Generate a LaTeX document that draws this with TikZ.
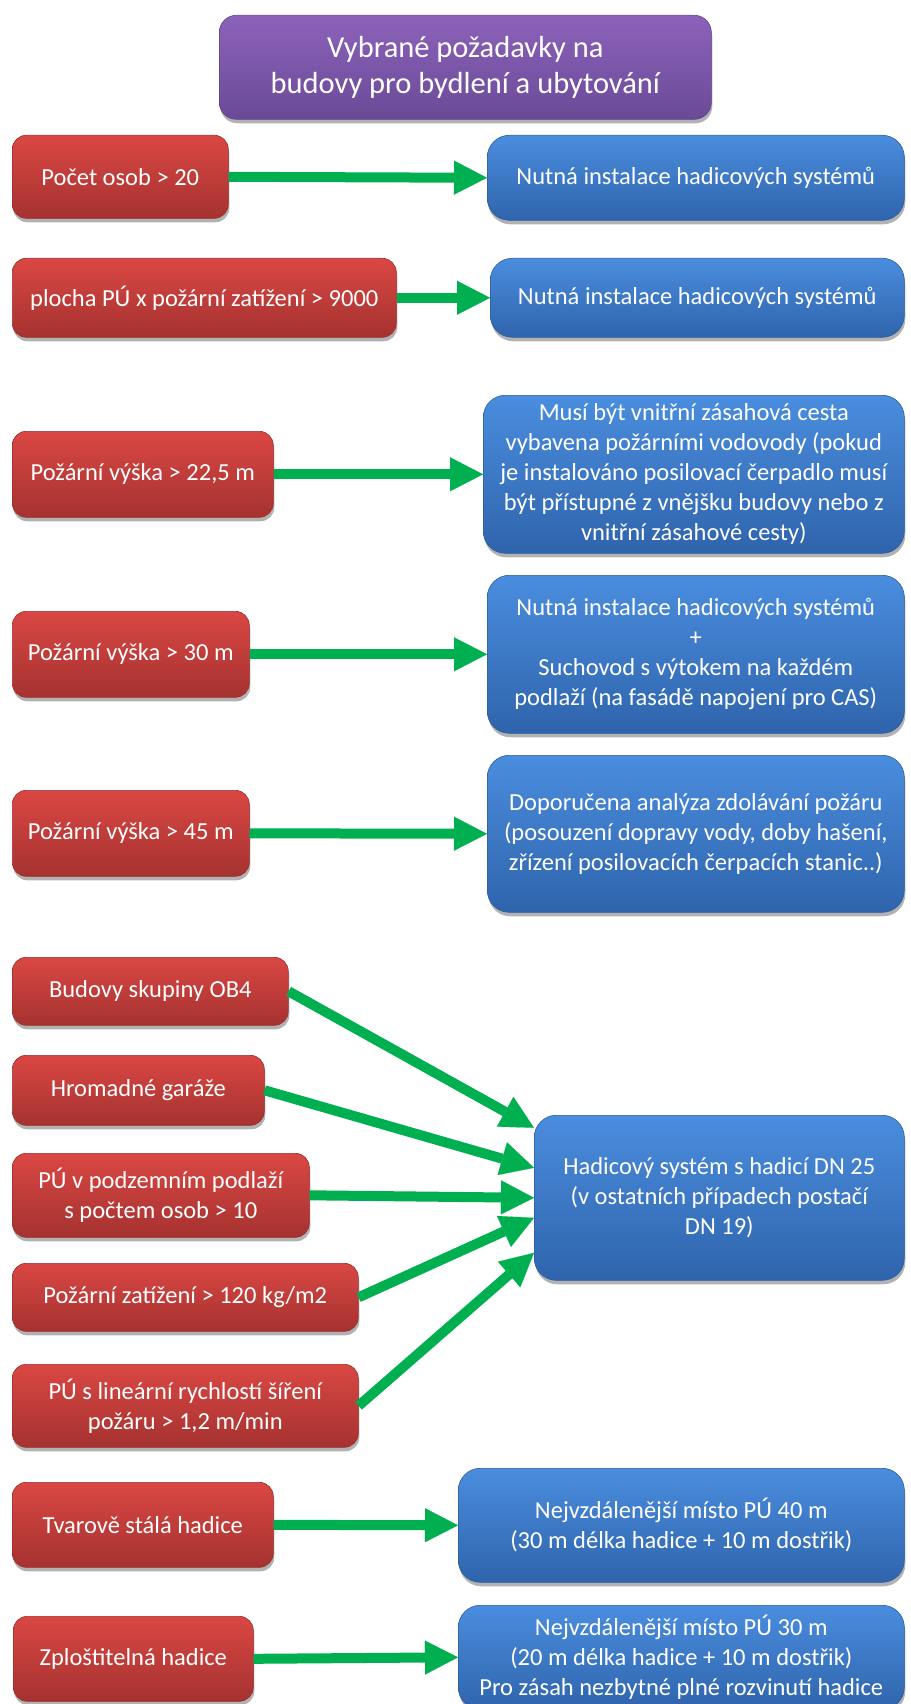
\documentclass[tikz,border=0pt]{standalone}
\usepackage{fontspec}
\setmainfont{Carlito}
\usetikzlibrary{arrows.meta}
\usetikzlibrary{shadows}
\usepackage{xcolor}

\definecolor{condtop}{HTML}{DA4743}
\definecolor{condbot}{HTML}{A53230}
\definecolor{condedge}{HTML}{9A2F2D}
\definecolor{reqtop}{HTML}{4A8DDE}
\definecolor{reqbot}{HTML}{2F64AC}
\definecolor{reqedge}{HTML}{2B5C9E}
\definecolor{headtop}{HTML}{8C62BA}
\definecolor{headbot}{HTML}{6A4A97}
\definecolor{headedge}{HTML}{5F4389}
\definecolor{arrowgreen}{HTML}{00B050}

\begin{document}
\begin{tikzpicture}[
    x=1pt, y=-1pt,
    box/.style={rounded corners=14pt, align=center, text=white, inner sep=4pt, line width=0.6pt,
        font=\fontsize{24.5pt}{30pt}\selectfont, anchor=north west,
        drop shadow={shadow xshift=1pt, shadow yshift=-4pt, opacity=0.3, fill=black}},
    cond/.style={box, top color=condtop, bottom color=condbot, draw=condedge},
    req/.style={box, rounded corners=22pt, top color=reqtop, bottom color=reqbot, draw=reqedge},
    heading/.style={box, rounded corners=17pt, top color=headtop, bottom color=headbot, draw=headedge,
        font=\fontsize{30.5pt}{36pt}\selectfont},
    link/.style={line width=10pt, draw=arrowgreen, -{Triangle[length=33pt, width=34pt, line width=0.1pt]}}
]
    % Background
    \fill[white] (0,0) rectangle (910,1704);
    \useasboundingbox (0,0) rectangle (910,1704);

    % Heading
    \node[heading, minimum width=492pt, minimum height=104pt] (title) at (219,15) {Vybrané požadavky na\\budovy pro bydlení a ubytování};

    % One condition, one requirement
    \node[cond, minimum width=216pt, minimum height=83pt] (osoby) at (12,135) {Počet osob > 20};
    \node[req, minimum width=417pt, minimum height=85pt] (hadice1) at (487,135) {Nutná instalace hadicových systémů};

    \node[cond, minimum width=384pt, minimum height=79pt] (plocha) at (12,258) {plocha PÚ x požární zatížení > 9000};
    \node[req, minimum width=414pt, minimum height=79pt] (hadice2) at (490,258) {Nutná instalace hadicových systémů};

    \node[cond, minimum width=261pt, minimum height=86pt] (vyska1) at (12,431) {Požární výška > 22,5 m};
    \node[req, minimum width=421pt, minimum height=158pt] (vodovody) at (483,395) {Musí být vnitřní zásahová cesta\\vybavena požárními vodovody (pokud\\je instalováno posilovací čerpadlo musí\\být přístupné z vnějšku budovy nebo z\\vnitřní zásahové cesty)};

    \node[cond, minimum width=237pt, minimum height=86pt] (vyska2) at (12,611) {Požární výška > 30 m};
    \node[req, minimum width=417pt, minimum height=158pt] (suchovod) at (487,575) {Nutná instalace hadicových systémů\\+\\Suchovod s výtokem na každém\\podlaží (na fasádě napojení pro CAS)};

    \node[cond, minimum width=237pt, minimum height=86pt] (vyska3) at (12,790) {Požární výška > 45 m};
    \node[req, minimum width=417pt, minimum height=157pt] (analyza) at (487,755) {Doporučena analýza zdolávání požáru\\(posouzení dopravy vody, doby hašení,\\zřízení posilovacích čerpacích stanic..)};

    % Several conditions, one requirement
    \node[cond, minimum width=276pt, minimum height=68pt] (ob4) at (12,957) {Budovy skupiny OB4};
    \node[cond, minimum width=252pt, minimum height=70pt] (garaze) at (12,1055) {Hromadné garáže};
    \node[cond, minimum width=297pt, minimum height=84pt] (podzemi) at (12,1153) {PÚ v podzemním podlaží\\s počtem osob > 10};
    \node[cond, minimum width=346pt, minimum height=68pt] (zatizeni) at (12,1263) {Požární zatížení > 120 kg/m2};
    \node[cond, minimum width=346pt, minimum height=83pt] (sireni) at (12,1364) {PÚ s lineární rychlostí šíření\\požáru > 1,2 m/min};
    \node[req, minimum width=370pt, minimum height=165pt] (dn25) at (534,1115) {Hadicový systém s hadicí DN 25\\(v ostatních případech postačí\\DN 19)};

    % Hoses
    \node[cond, minimum width=261pt, minimum height=85pt] (tvarove) at (12,1482) {Tvarově stálá hadice};
    \node[req, minimum width=446pt, minimum height=114pt] (dosah40) at (458,1468) {Nejvzdálenější místo PÚ 40 m\\(30 m délka hadice + 10 m dostřik)};

    \node[cond, minimum width=240pt, minimum height=85pt] (zplostit) at (13,1616) {Zploštitelná hadice};
    \node[req, minimum width=446pt, minimum height=104pt] (dosah30) at (458,1605) {Nejvzdálenější místo PÚ 30 m\\(20 m délka hadice + 10 m dostřik)\\Pro zásah nezbytné plné rozvinutí hadice};

    % Arrows
    \draw[link] (osoby.east) -- (hadice1.west);
    \draw[link] (plocha.east) -- (hadice2.west);
    \draw[link] (vyska1.east) -- (vodovody.west);
    \draw[link] (vyska2.east) -- (suchovod.west);
    \draw[link] (vyska3.east) -- (analyza.west);
    \draw[link] (ob4.east) -- ([yshift=70pt]dn25.west);
    \draw[link] (garaze.east) -- ([yshift=30pt]dn25.west);
    \draw[link] (podzemi.east) -- (dn25.west);
    \draw[link] (zatizeni.east) -- ([yshift=-20pt]dn25.west);
    \draw[link] (sireni.east) -- ([yshift=-55pt]dn25.west);
    \draw[link] (tvarove.east) -- (dosah40.west);
    \draw[link] (zplostit.east) -- (dosah30.west);
\end{tikzpicture}
\end{document}
